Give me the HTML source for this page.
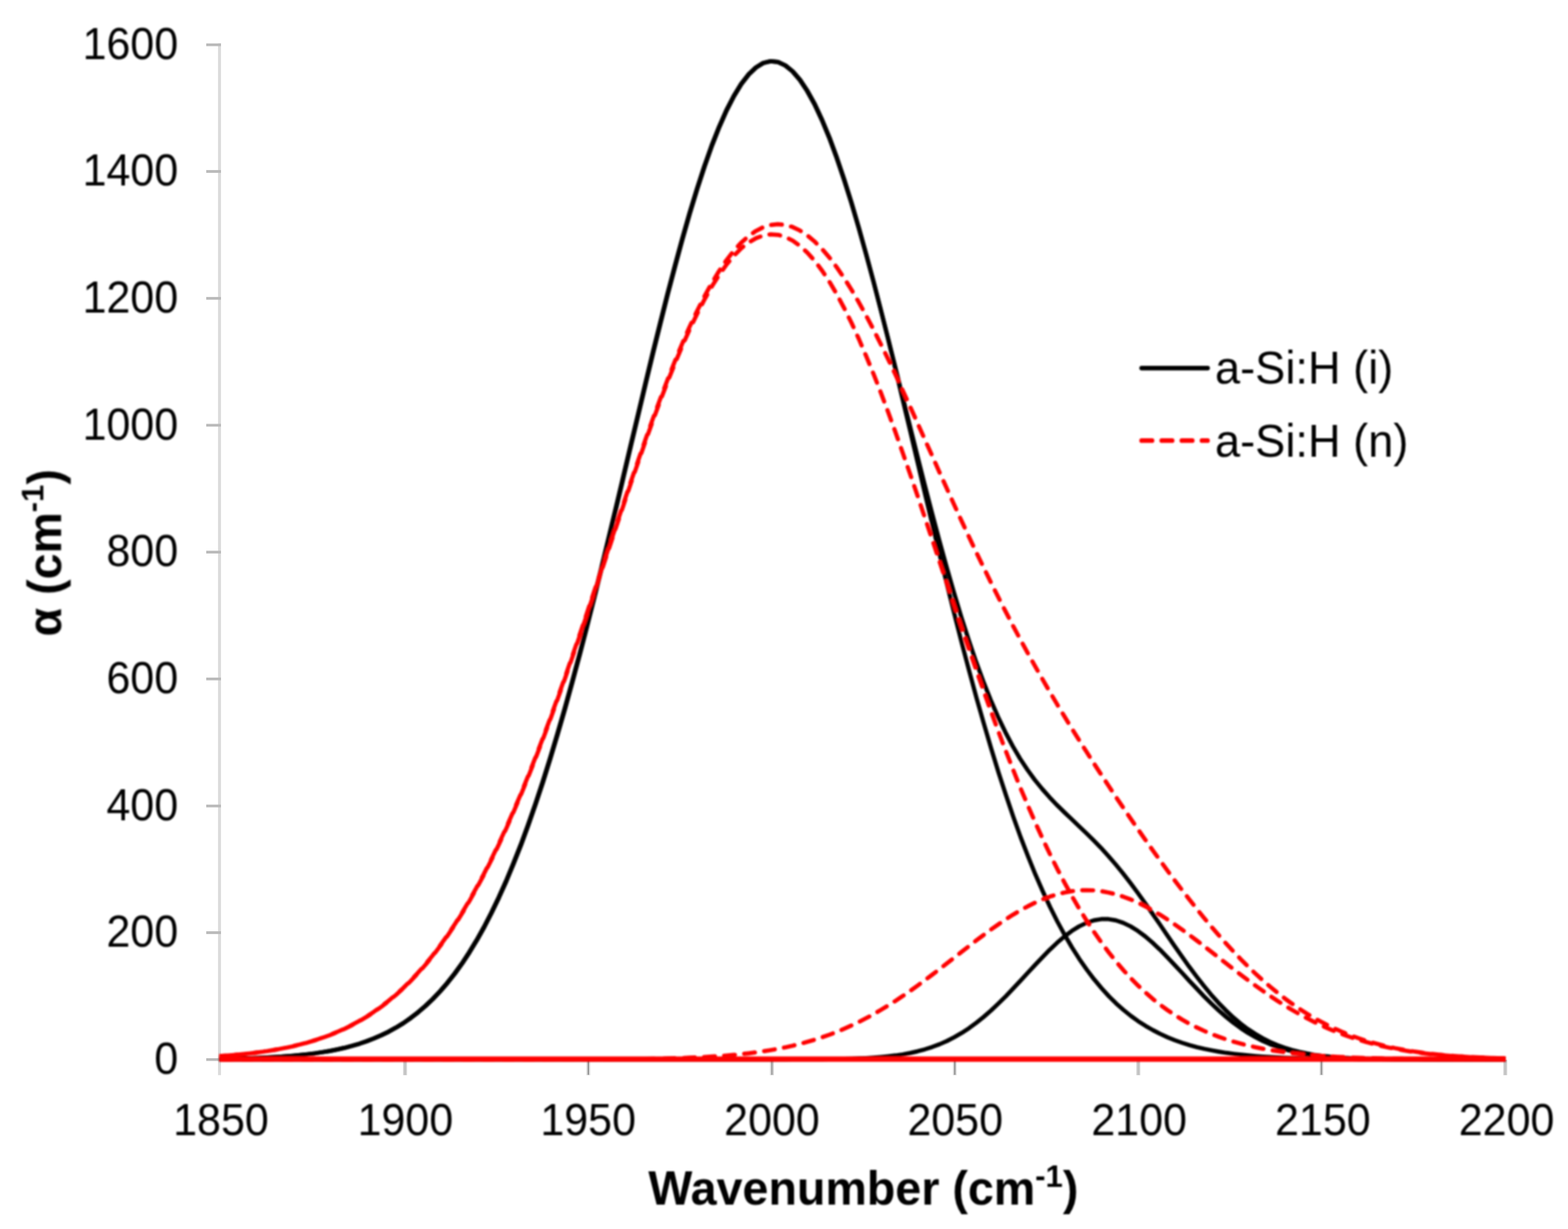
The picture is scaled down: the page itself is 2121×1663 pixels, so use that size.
<!DOCTYPE html>
<html lang="en"><head><meta charset="utf-8"><title>FTIR absorption spectra</title>
<style>
html,body{margin:0;padding:0;background:#fff;}
body{width:2121px;height:1663px;}
svg{display:block;}
text{font-family:"Liberation Sans",sans-serif;fill:#000;}
.tick{font-size:61px;}
.ttl{font-size:64.5px;font-weight:bold;}
.leg{font-size:63.2px;}
.k{fill:none;stroke:#000;stroke-width:5.7;stroke-linejoin:round;stroke-linecap:round;}
.r{fill:none;stroke:#f00;stroke-width:5.7;stroke-linejoin:round;stroke-linecap:round;stroke-dasharray:14.6 12.6;}
</style></head><body>
<svg width="2121" height="1663" viewBox="0 0 2121 1663" role="img" aria-label="FTIR absorption coefficient versus wavenumber for a-Si:H (i) and a-Si:H (n)">
<defs><filter id="soft" x="0" y="0" width="100%" height="100%" filterUnits="userSpaceOnUse"><feGaussianBlur stdDeviation="1.0"/></filter><filter id="soft2" x="0" y="0" width="100%" height="100%" filterUnits="userSpaceOnUse"><feGaussianBlur stdDeviation="0.45"/></filter></defs>
<rect x="0" y="0" width="2121" height="1663" fill="#fff"/>
<g id="axes" filter="url(#soft2)">
<rect x="294.9" y="58.6" width="4.0" height="1396.2" fill="#dbdbdb"/>
<rect x="279.0" y="1431.85" width="19.9" height="3.7" fill="#b9b9b9"/>
<rect x="279.0" y="1260.15" width="19.9" height="3.7" fill="#b9b9b9"/>
<rect x="279.0" y="1088.75" width="19.9" height="3.7" fill="#b9b9b9"/>
<rect x="279.0" y="916.85" width="19.9" height="3.7" fill="#b9b9b9"/>
<rect x="279.0" y="745.25" width="19.9" height="3.7" fill="#b9b9b9"/>
<rect x="279.0" y="573.55" width="19.9" height="3.7" fill="#b9b9b9"/>
<rect x="279.0" y="401.85" width="19.9" height="3.7" fill="#b9b9b9"/>
<rect x="279.0" y="230.15" width="19.9" height="3.7" fill="#b9b9b9"/>
<rect x="279.0" y="58.75" width="19.9" height="3.7" fill="#b9b9b9"/>
<rect x="545.30" y="1434" width="5.2" height="20.9" fill="#d2d2d2"/>
<rect x="546.60" y="1434" width="2.6" height="20.4" fill="#c2c2c2"/>
<rect x="793.10" y="1434" width="5.4" height="20.9" fill="#e0e0e0"/>
<rect x="794.85" y="1434" width="1.9" height="20.4" fill="#8e8e8e"/>
<rect x="1041.50" y="1434" width="5.4" height="20.9" fill="#dcdcdc"/>
<rect x="1043.00" y="1434" width="2.4" height="20.4" fill="#a6a6a6"/>
<rect x="1288.80" y="1434" width="5.4" height="20.9" fill="#e0e0e0"/>
<rect x="1290.55" y="1434" width="1.9" height="20.4" fill="#8e8e8e"/>
<rect x="1537.20" y="1434" width="5.2" height="20.9" fill="#d2d2d2"/>
<rect x="1538.50" y="1434" width="2.6" height="20.4" fill="#c2c2c2"/>
<rect x="1784.80" y="1434" width="5.4" height="20.9" fill="#e0e0e0"/>
<rect x="1786.55" y="1434" width="1.9" height="20.4" fill="#8e8e8e"/>
<rect x="2033.50" y="1434" width="5.2" height="20.9" fill="#d2d2d2"/>
<rect x="2034.80" y="1434" width="2.6" height="20.4" fill="#c2c2c2"/>
</g>
<g id="chart" filter="url(#soft)">
<g id="ylabels" class="tick" text-anchor="end">
<text transform="translate(241.00 1453.00) scale(0.953 1)">0</text>
<text transform="translate(241.00 1281.30) scale(0.953 1)">200</text>
<text transform="translate(241.00 1109.90) scale(0.953 1)">400</text>
<text transform="translate(241.00 938.00) scale(0.953 1)">600</text>
<text transform="translate(241.00 766.40) scale(0.953 1)">800</text>
<text transform="translate(241.00 594.70) scale(0.953 1)">1000</text>
<text transform="translate(241.00 423.00) scale(0.953 1)">1200</text>
<text transform="translate(241.00 251.30) scale(0.953 1)">1400</text>
<text transform="translate(241.00 79.90) scale(0.953 1)">1600</text>
</g>
<g id="xlabels" class="tick" text-anchor="middle">
<text transform="translate(298.90 1535.60) scale(0.953 1)">1850</text>
<text transform="translate(548.30 1535.60) scale(0.953 1)">1900</text>
<text transform="translate(795.60 1535.60) scale(0.953 1)">1950</text>
<text transform="translate(1044.20 1535.60) scale(0.953 1)">2000</text>
<text transform="translate(1292.10 1535.60) scale(0.953 1)">2050</text>
<text transform="translate(1540.90 1535.60) scale(0.953 1)">2100</text>
<text transform="translate(1789.40 1535.60) scale(0.953 1)">2150</text>
<text transform="translate(2037.90 1535.60) scale(0.953 1)">2200</text>
</g>
<clipPath id="plot"><rect x="296.4" y="0" width="1740.4" height="1663"/></clipPath>
<g id="series-i" clip-path="url(#plot)">
<path class="k" transform="translate(-0.4 0)" d="M297.0 1432.8 L306.9 1432.6 L316.9 1432.4 L326.8 1432.2 L336.8 1431.9 L346.7 1431.5 L356.6 1431.1 L366.6 1430.6 L376.5 1430.0 L386.4 1429.4 L396.4 1428.6 L406.3 1427.6 L416.3 1426.5 L426.2 1425.3 L436.1 1423.8 L446.1 1422.1 L456.0 1420.1 L465.9 1417.9 L475.9 1415.3 L485.8 1412.4 L495.8 1409.0 L505.7 1405.2 L515.6 1400.9 L525.6 1396.1 L535.5 1390.6 L545.5 1384.5 L555.4 1377.6 L565.3 1369.9 L575.3 1361.4 L585.2 1352.0 L595.1 1341.6 L605.1 1330.1 L615.0 1317.5 L625.0 1303.7 L634.9 1288.6 L644.8 1272.3 L654.8 1254.5 L664.7 1235.3 L674.6 1214.7 L684.6 1192.5 L694.5 1168.7 L704.5 1143.4 L714.4 1116.5 L724.3 1088.1 L734.3 1058.0 L744.2 1026.4 L754.1 993.4 L764.1 958.9 L774.0 923.0 L784.0 885.8 L793.9 847.5 L803.8 808.2 L813.8 768.0 L823.7 727.0 L833.7 685.5 L843.6 643.7 L853.5 601.7 L863.5 559.8 L873.4 518.1 L883.3 477.0 L893.3 436.7 L903.2 397.4 L913.2 359.4 L923.1 322.9 L933.0 288.2 L943.0 255.5 L952.9 225.1 L962.8 197.1 L972.8 171.8 L982.7 149.4 L992.7 130.0 L1002.6 113.8 L1012.5 100.9 L1022.5 91.4 L1032.4 85.3 L1042.3 82.8 L1052.3 83.9 L1062.2 88.5 L1072.2 96.6 L1082.1 108.1 L1092.0 123.0 L1102.0 141.0 L1111.9 162.2 L1121.9 186.3 L1131.8 213.0 L1141.7 242.3 L1151.7 273.8 L1161.6 307.4 L1171.5 342.7 L1181.5 379.6 L1191.4 417.6 L1201.4 456.6 L1211.3 496.2 L1221.2 536.2 L1231.2 576.2 L1241.1 615.9 L1251.0 655.2 L1261.0 693.6 L1270.9 731.1 L1280.9 767.2 L1290.8 801.8 L1300.7 834.8 L1310.7 865.9 L1320.6 895.1 L1330.6 922.2 L1340.5 947.1 L1350.4 970.0 L1360.4 990.8 L1370.3 1009.6 L1380.2 1026.5 L1390.2 1041.6 L1400.1 1055.2 L1410.1 1067.5 L1420.0 1078.7 L1429.9 1089.1 L1439.9 1098.9 L1449.8 1108.3 L1459.7 1117.7 L1469.7 1127.2 L1479.6 1137.0 L1489.6 1147.2 L1499.5 1158.1 L1509.4 1169.5 L1519.4 1181.7 L1529.3 1194.5 L1539.2 1207.9 L1549.2 1221.8 L1559.1 1236.0 L1569.1 1250.5 L1579.0 1265.1 L1588.9 1279.6 L1598.9 1293.9 L1608.8 1307.8 L1618.8 1321.1 L1628.7 1333.8 L1638.6 1345.8 L1648.6 1356.9 L1658.5 1367.1 L1668.4 1376.5 L1678.4 1384.9 L1688.3 1392.4 L1698.3 1399.0 L1708.2 1404.8 L1718.1 1409.8 L1728.1 1414.1 L1738.0 1417.7 L1747.9 1420.8 L1757.9 1423.3 L1767.8 1425.4 L1777.8 1427.2 L1787.7 1428.6 L1797.6 1429.7 L1807.6 1430.6 L1817.5 1431.3 L1827.5 1431.8 L1837.4 1432.3 L1847.3 1432.6 L1857.3 1432.8 L1867.2 1433.0 L1877.1 1433.2 L1887.1 1433.3 L1897.0 1433.4 L1907.0 1433.4 L1916.9 1433.5 L1926.8 1433.5 L1936.8 1433.5 L1946.7 1433.6 L1956.6 1433.6 L1966.6 1433.6 L1976.5 1433.6 L1986.5 1433.6 L1996.4 1433.6 L2006.3 1433.6 L2016.3 1433.6 L2026.2 1433.6 L2036.2 1433.6"/>
<path class="k" transform="translate(0.4 0)" d="M297.0 1432.8 L306.9 1432.6 L316.9 1432.4 L326.8 1432.2 L336.8 1431.9 L346.7 1431.5 L356.6 1431.1 L366.6 1430.6 L376.5 1430.0 L386.4 1429.4 L396.4 1428.6 L406.3 1427.6 L416.3 1426.5 L426.2 1425.3 L436.1 1423.8 L446.1 1422.1 L456.0 1420.1 L465.9 1417.9 L475.9 1415.3 L485.8 1412.4 L495.8 1409.0 L505.7 1405.2 L515.6 1400.9 L525.6 1396.1 L535.5 1390.6 L545.5 1384.5 L555.4 1377.6 L565.3 1369.9 L575.3 1361.4 L585.2 1352.0 L595.1 1341.6 L605.1 1330.1 L615.0 1317.5 L625.0 1303.7 L634.9 1288.6 L644.8 1272.3 L654.8 1254.5 L664.7 1235.3 L674.6 1214.7 L684.6 1192.5 L694.5 1168.7 L704.5 1143.4 L714.4 1116.5 L724.3 1088.1 L734.3 1058.0 L744.2 1026.4 L754.1 993.4 L764.1 958.9 L774.0 923.0 L784.0 885.8 L793.9 847.5 L803.8 808.2 L813.8 768.0 L823.7 727.0 L833.7 685.5 L843.6 643.7 L853.5 601.7 L863.5 559.8 L873.4 518.1 L883.3 477.0 L893.3 436.7 L903.2 397.4 L913.2 359.4 L923.1 322.9 L933.0 288.2 L943.0 255.5 L952.9 225.1 L962.8 197.1 L972.8 171.8 L982.7 149.4 L992.7 130.0 L1002.6 113.8 L1012.5 100.9 L1022.5 91.4 L1032.4 85.3 L1042.3 82.9 L1052.3 83.9 L1062.2 88.5 L1072.2 96.6 L1082.1 108.2 L1092.0 123.1 L1102.0 141.2 L1111.9 162.5 L1121.9 186.6 L1131.8 213.6 L1141.7 243.0 L1151.7 274.9 L1161.6 308.8 L1171.5 344.6 L1181.5 382.0 L1191.4 420.8 L1201.4 460.8 L1211.3 501.6 L1221.2 543.1 L1231.2 584.9 L1241.1 626.9 L1251.0 668.8 L1261.0 710.5 L1270.9 751.7 L1280.9 792.2 L1290.8 831.9 L1300.7 870.6 L1310.7 908.3 L1320.6 944.7 L1330.6 979.7 L1340.5 1013.4 L1350.4 1045.6 L1360.4 1076.2 L1370.3 1105.3 L1380.2 1132.9 L1390.2 1158.8 L1400.1 1183.2 L1410.1 1206.0 L1420.0 1227.2 L1429.9 1247.0 L1439.9 1265.3 L1449.8 1282.3 L1459.7 1297.8 L1469.7 1312.1 L1479.6 1325.2 L1489.6 1337.1 L1499.5 1348.0 L1509.4 1357.8 L1519.4 1366.6 L1529.3 1374.6 L1539.2 1381.8 L1549.2 1388.2 L1559.1 1393.9 L1569.1 1399.0 L1579.0 1403.6 L1588.9 1407.6 L1598.9 1411.1 L1608.8 1414.2 L1618.8 1416.9 L1628.7 1419.3 L1638.6 1421.3 L1648.6 1423.1 L1658.5 1424.7 L1668.4 1426.0 L1678.4 1427.2 L1688.3 1428.2 L1698.3 1429.0 L1708.2 1429.8 L1718.1 1430.4 L1728.1 1430.9 L1738.0 1431.4 L1747.9 1431.7 L1757.9 1432.1 L1767.8 1432.3 L1777.8 1432.6 L1787.7 1432.7 L1797.6 1432.9 L1807.6 1433.0 L1817.5 1433.1 L1827.5 1433.2 L1837.4 1433.3 L1847.3 1433.3 L1857.3 1433.4 L1867.2 1433.4 L1877.1 1433.5 L1887.1 1433.5 L1897.0 1433.5 L1907.0 1433.5 L1916.9 1433.5 L1926.8 1433.6 L1936.8 1433.6 L1946.7 1433.6 L1956.6 1433.6 L1966.6 1433.6 L1976.5 1433.6 L1986.5 1433.6 L1996.4 1433.6 L2006.3 1433.6 L2016.3 1433.6 L2026.2 1433.6 L2036.2 1433.6"/>
<path class="k" d="M297.0 1433.6 L306.9 1433.6 L316.9 1433.6 L326.8 1433.6 L336.8 1433.6 L346.7 1433.6 L356.6 1433.6 L366.6 1433.6 L376.5 1433.6 L386.4 1433.6 L396.4 1433.6 L406.3 1433.6 L416.3 1433.6 L426.2 1433.6 L436.1 1433.6 L446.1 1433.6 L456.0 1433.6 L465.9 1433.6 L475.9 1433.6 L485.8 1433.6 L495.8 1433.6 L505.7 1433.6 L515.6 1433.6 L525.6 1433.6 L535.5 1433.6 L545.5 1433.6 L555.4 1433.6 L565.3 1433.6 L575.3 1433.6 L585.2 1433.6 L595.1 1433.6 L605.1 1433.6 L615.0 1433.6 L625.0 1433.6 L634.9 1433.6 L644.8 1433.6 L654.8 1433.6 L664.7 1433.6 L674.6 1433.6 L684.6 1433.6 L694.5 1433.6 L704.5 1433.6 L714.4 1433.6 L724.3 1433.6 L734.3 1433.6 L744.2 1433.6 L754.1 1433.6 L764.1 1433.6 L774.0 1433.6 L784.0 1433.6 L793.9 1433.6 L803.8 1433.6 L813.8 1433.6 L823.7 1433.6 L833.7 1433.6 L843.6 1433.6 L853.5 1433.6 L863.5 1433.6 L873.4 1433.6 L883.3 1433.6 L893.3 1433.6 L903.2 1433.6 L913.2 1433.6 L923.1 1433.6 L933.0 1433.6 L943.0 1433.6 L952.9 1433.6 L962.8 1433.6 L972.8 1433.6 L982.7 1433.6 L992.7 1433.6 L1002.6 1433.6 L1012.5 1433.6 L1022.5 1433.6 L1032.4 1433.6 L1042.3 1433.6 L1052.3 1433.6 L1062.2 1433.6 L1072.2 1433.5 L1082.1 1433.5 L1092.0 1433.5 L1102.0 1433.4 L1111.9 1433.3 L1121.9 1433.2 L1131.8 1433.1 L1141.7 1432.8 L1151.7 1432.6 L1161.6 1432.2 L1171.5 1431.8 L1181.5 1431.2 L1191.4 1430.4 L1201.4 1429.4 L1211.3 1428.2 L1221.2 1426.7 L1231.2 1424.9 L1241.1 1422.6 L1251.0 1419.9 L1261.0 1416.7 L1270.9 1413.0 L1280.9 1408.6 L1290.8 1403.5 L1300.7 1397.8 L1310.7 1391.3 L1320.6 1384.0 L1330.6 1376.0 L1340.5 1367.4 L1350.4 1358.0 L1360.4 1348.2 L1370.3 1337.8 L1380.2 1327.2 L1390.2 1316.4 L1400.1 1305.7 L1410.1 1295.2 L1420.0 1285.1 L1429.9 1275.7 L1439.9 1267.1 L1449.8 1259.7 L1459.7 1253.5 L1469.7 1248.7 L1479.6 1245.4 L1489.6 1243.7 L1499.5 1243.7 L1509.4 1245.4 L1519.4 1248.7 L1529.3 1253.5 L1539.2 1259.7 L1549.2 1267.1 L1559.1 1275.7 L1569.1 1285.1 L1579.0 1295.2 L1588.9 1305.7 L1598.9 1316.4 L1608.8 1327.2 L1618.8 1337.8 L1628.7 1348.2 L1638.6 1358.0 L1648.6 1367.4 L1658.5 1376.0 L1668.4 1384.0 L1678.4 1391.3 L1688.3 1397.8 L1698.3 1403.5 L1708.2 1408.6 L1718.1 1413.0 L1728.1 1416.7 L1738.0 1419.9 L1747.9 1422.6 L1757.9 1424.9 L1767.8 1426.7 L1777.8 1428.2 L1787.7 1429.4 L1797.6 1430.4 L1807.6 1431.2 L1817.5 1431.8 L1827.5 1432.2 L1837.4 1432.6 L1847.3 1432.8 L1857.3 1433.1 L1867.2 1433.2 L1877.1 1433.3 L1887.1 1433.4 L1897.0 1433.5 L1907.0 1433.5 L1916.9 1433.5 L1926.8 1433.6 L1936.8 1433.6 L1946.7 1433.6 L1956.6 1433.6 L1966.6 1433.6 L1976.5 1433.6 L1986.5 1433.6 L1996.4 1433.6 L2006.3 1433.6 L2016.3 1433.6 L2026.2 1433.6 L2036.2 1433.6"/>
</g>
<g id="series-n" clip-path="url(#plot)">
<path class="r" transform="translate(-0.3 0)" stroke-dashoffset="6.9" d="M297.0 1429.0 L306.9 1428.3 L316.9 1427.5 L326.8 1426.6 L336.8 1425.5 L346.7 1424.3 L356.6 1423.0 L366.6 1421.4 L376.5 1419.7 L386.4 1417.8 L396.4 1415.7 L406.3 1413.3 L416.3 1410.6 L426.2 1407.6 L436.1 1404.3 L446.1 1400.6 L456.0 1396.5 L465.9 1392.1 L475.9 1387.1 L485.8 1381.7 L495.8 1375.8 L505.7 1369.3 L515.6 1362.2 L525.6 1354.5 L535.5 1346.1 L545.5 1337.1 L555.4 1327.3 L565.3 1316.7 L575.3 1305.4 L585.2 1293.2 L595.1 1280.1 L605.1 1266.2 L615.0 1251.4 L625.0 1235.6 L634.9 1218.9 L644.8 1201.2 L654.8 1182.6 L664.7 1163.0 L674.6 1142.4 L684.6 1120.8 L694.5 1098.4 L704.5 1075.0 L714.4 1050.7 L724.3 1025.6 L734.3 999.6 L744.2 973.0 L754.1 945.6 L764.1 917.6 L774.0 889.0 L784.0 860.0 L793.9 830.6 L803.8 800.9 L813.8 771.1 L823.7 741.2 L833.7 711.3 L843.6 681.6 L853.5 652.2 L863.5 623.2 L873.4 594.7 L883.3 566.9 L893.3 539.9 L903.2 513.9 L913.2 488.8 L923.1 465.0 L933.0 442.4 L943.0 421.2 L952.9 401.6 L962.8 383.5 L972.8 367.1 L982.7 352.4 L992.7 339.6 L1002.6 328.7 L1012.5 319.7 L1022.5 312.7 L1032.4 307.6 L1042.3 304.5 L1052.3 303.4 L1062.2 304.3 L1072.2 307.1 L1082.1 311.8 L1092.0 318.3 L1102.0 326.6 L1111.9 336.5 L1121.9 348.1 L1131.8 361.2 L1141.7 375.6 L1151.7 391.4 L1161.6 408.3 L1171.5 426.3 L1181.5 445.2 L1191.4 465.0 L1201.4 485.4 L1211.3 506.4 L1221.2 527.9 L1231.2 549.8 L1241.1 571.8 L1251.0 594.1 L1261.0 616.3 L1270.9 638.6 L1280.9 660.7 L1290.8 682.6 L1300.7 704.3 L1310.7 725.7 L1320.6 746.8 L1330.6 767.4 L1340.5 787.7 L1350.4 807.6 L1360.4 827.1 L1370.3 846.2 L1380.2 864.8 L1390.2 883.1 L1400.1 900.9 L1410.1 918.4 L1420.0 935.6 L1429.9 952.4 L1439.9 968.9 L1449.8 985.1 L1459.7 1001.1 L1469.7 1016.8 L1479.6 1032.4 L1489.6 1047.7 L1499.5 1062.8 L1509.4 1077.8 L1519.4 1092.5 L1529.3 1107.1 L1539.2 1121.6 L1549.2 1135.8 L1559.1 1149.9 L1569.1 1163.7 L1579.0 1177.4 L1588.9 1190.8 L1598.9 1203.9 L1608.8 1216.8 L1618.8 1229.4 L1628.7 1241.7 L1638.6 1253.6 L1648.6 1265.2 L1658.5 1276.4 L1668.4 1287.2 L1678.4 1297.7 L1688.3 1307.6 L1698.3 1317.2 L1708.2 1326.3 L1718.1 1334.9 L1728.1 1343.1 L1738.0 1350.9 L1747.9 1358.1 L1757.9 1365.0 L1767.8 1371.4 L1777.8 1377.3 L1787.7 1382.8 L1797.6 1387.9 L1807.6 1392.7 L1817.5 1397.0 L1827.5 1401.0 L1837.4 1404.6 L1847.3 1407.9 L1857.3 1410.9 L1867.2 1413.6 L1877.1 1416.0 L1887.1 1418.2 L1897.0 1420.1 L1907.0 1421.9 L1916.9 1423.4 L1926.8 1424.8 L1936.8 1426.0 L1946.7 1427.1 L1956.6 1428.0 L1966.6 1428.8 L1976.5 1429.5 L1986.5 1430.1 L1996.4 1430.7 L2006.3 1431.1 L2016.3 1431.5 L2026.2 1431.8 L2036.2 1432.1"/>
<path class="r" transform="translate(0.3 0)" stroke-dashoffset="18.3" d="M297.0 1429.0 L306.9 1428.3 L316.9 1427.5 L326.8 1426.6 L336.8 1425.5 L346.7 1424.3 L356.6 1423.0 L366.6 1421.4 L376.5 1419.7 L386.4 1417.8 L396.4 1415.7 L406.3 1413.3 L416.3 1410.6 L426.2 1407.6 L436.1 1404.3 L446.1 1400.6 L456.0 1396.5 L465.9 1392.1 L475.9 1387.1 L485.8 1381.7 L495.8 1375.8 L505.7 1369.3 L515.6 1362.2 L525.6 1354.5 L535.5 1346.1 L545.5 1337.1 L555.4 1327.3 L565.3 1316.7 L575.3 1305.4 L585.2 1293.2 L595.1 1280.1 L605.1 1266.2 L615.0 1251.4 L625.0 1235.6 L634.9 1218.9 L644.8 1201.2 L654.8 1182.6 L664.7 1163.0 L674.6 1142.4 L684.6 1120.9 L694.5 1098.4 L704.5 1075.0 L714.4 1050.7 L724.3 1025.6 L734.3 999.7 L744.2 973.0 L754.1 945.6 L764.1 917.7 L774.0 889.1 L784.0 860.1 L793.9 830.8 L803.8 801.1 L813.8 771.3 L823.7 741.5 L833.7 711.7 L843.6 682.0 L853.5 652.7 L863.5 623.8 L873.4 595.5 L883.3 567.9 L893.3 541.1 L903.2 515.3 L913.2 490.5 L923.1 467.0 L933.0 444.8 L943.0 424.0 L952.9 404.8 L962.8 387.3 L972.8 371.6 L982.7 357.7 L992.7 345.8 L1002.6 335.8 L1012.5 328.0 L1022.5 322.2 L1032.4 318.6 L1042.3 317.1 L1052.3 317.8 L1062.2 320.7 L1072.2 325.7 L1082.1 332.9 L1092.0 342.1 L1102.0 353.3 L1111.9 366.5 L1121.9 381.6 L1131.8 398.5 L1141.7 417.1 L1151.7 437.3 L1161.6 459.0 L1171.5 482.1 L1181.5 506.5 L1191.4 531.9 L1201.4 558.4 L1211.3 585.8 L1221.2 613.9 L1231.2 642.6 L1241.1 671.7 L1251.0 701.3 L1261.0 731.0 L1270.9 760.9 L1280.9 790.7 L1290.8 820.4 L1300.7 849.9 L1310.7 879.0 L1320.6 907.7 L1330.6 935.9 L1340.5 963.5 L1350.4 990.4 L1360.4 1016.6 L1370.3 1042.0 L1380.2 1066.6 L1390.2 1090.3 L1400.1 1113.1 L1410.1 1135.0 L1420.0 1155.9 L1429.9 1175.8 L1439.9 1194.8 L1449.8 1212.8 L1459.7 1229.9 L1469.7 1246.0 L1479.6 1261.1 L1489.6 1275.4 L1499.5 1288.7 L1509.4 1301.2 L1519.4 1312.9 L1529.3 1323.7 L1539.2 1333.7 L1549.2 1343.0 L1559.1 1351.7 L1569.1 1359.6 L1579.0 1366.9 L1588.9 1373.6 L1598.9 1379.7 L1608.8 1385.3 L1618.8 1390.4 L1628.7 1395.0 L1638.6 1399.2 L1648.6 1403.0 L1658.5 1406.5 L1668.4 1409.6 L1678.4 1412.3 L1688.3 1414.8 L1698.3 1417.1 L1708.2 1419.1 L1718.1 1420.9 L1728.1 1422.4 L1738.0 1423.9 L1747.9 1425.1 L1757.9 1426.2 L1767.8 1427.2 L1777.8 1428.0 L1787.7 1428.8 L1797.6 1429.4 L1807.6 1430.0 L1817.5 1430.5 L1827.5 1430.9 L1837.4 1431.3 L1847.3 1431.7 L1857.3 1431.9 L1867.2 1432.2 L1877.1 1432.4 L1887.1 1432.6 L1897.0 1432.7 L1907.0 1432.9 L1916.9 1433.0 L1926.8 1433.1 L1936.8 1433.2 L1946.7 1433.2 L1956.6 1433.3 L1966.6 1433.3 L1976.5 1433.4 L1986.5 1433.4 L1996.4 1433.5 L2006.3 1433.5 L2016.3 1433.5 L2026.2 1433.5 L2036.2 1433.5"/>
<path class="r" stroke-dashoffset="-2.7" d="M297.0 1433.6 L306.9 1433.6 L316.9 1433.6 L326.8 1433.6 L336.8 1433.6 L346.7 1433.6 L356.6 1433.6 L366.6 1433.6 L376.5 1433.6 L386.4 1433.6 L396.4 1433.6 L406.3 1433.6 L416.3 1433.6 L426.2 1433.6 L436.1 1433.6 L446.1 1433.6 L456.0 1433.6 L465.9 1433.6 L475.9 1433.6 L485.8 1433.6 L495.8 1433.6 L505.7 1433.6 L515.6 1433.6 L525.6 1433.6 L535.5 1433.6 L545.5 1433.6 L555.4 1433.6 L565.3 1433.6 L575.3 1433.6 L585.2 1433.6 L595.1 1433.6 L605.1 1433.6 L615.0 1433.6 L625.0 1433.6 L634.9 1433.6 L644.8 1433.6 L654.8 1433.6 L664.7 1433.6 L674.6 1433.6 L684.6 1433.6 L694.5 1433.6 L704.5 1433.6 L714.4 1433.6 L724.3 1433.6 L734.3 1433.6 L744.2 1433.5 L754.1 1433.5 L764.1 1433.5 L774.0 1433.5 L784.0 1433.5 L793.9 1433.4 L803.8 1433.4 L813.8 1433.4 L823.7 1433.3 L833.7 1433.2 L843.6 1433.1 L853.5 1433.1 L863.5 1432.9 L873.4 1432.8 L883.3 1432.6 L893.3 1432.4 L903.2 1432.2 L913.2 1431.9 L923.1 1431.6 L933.0 1431.2 L943.0 1430.8 L952.9 1430.3 L962.8 1429.7 L972.8 1429.1 L982.7 1428.3 L992.7 1427.4 L1002.6 1426.4 L1012.5 1425.3 L1022.5 1424.0 L1032.4 1422.6 L1042.3 1421.0 L1052.3 1419.2 L1062.2 1417.2 L1072.2 1415.0 L1082.1 1412.5 L1092.0 1409.8 L1102.0 1406.9 L1111.9 1403.6 L1121.9 1400.1 L1131.8 1396.3 L1141.7 1392.1 L1151.7 1387.7 L1161.6 1382.9 L1171.5 1377.8 L1181.5 1372.4 L1191.4 1366.6 L1201.4 1360.6 L1211.3 1354.3 L1221.2 1347.7 L1231.2 1340.8 L1241.1 1333.7 L1251.0 1326.4 L1261.0 1318.9 L1270.9 1311.3 L1280.9 1303.6 L1290.8 1295.8 L1300.7 1288.0 L1310.7 1280.3 L1320.6 1272.6 L1330.6 1265.1 L1340.5 1257.8 L1350.4 1250.8 L1360.4 1244.1 L1370.3 1237.7 L1380.2 1231.8 L1390.2 1226.4 L1400.1 1221.4 L1410.1 1217.0 L1420.0 1213.3 L1429.9 1210.1 L1439.9 1207.7 L1449.8 1205.9 L1459.7 1204.8 L1469.7 1204.5 L1479.6 1204.8 L1489.6 1205.9 L1499.5 1207.7 L1509.4 1210.1 L1519.4 1213.3 L1529.3 1217.0 L1539.2 1221.4 L1549.2 1226.4 L1559.1 1231.8 L1569.1 1237.7 L1579.0 1244.1 L1588.9 1250.8 L1598.9 1257.8 L1608.8 1265.1 L1618.8 1272.6 L1628.7 1280.3 L1638.6 1288.0 L1648.6 1295.8 L1658.5 1303.6 L1668.4 1311.3 L1678.4 1318.9 L1688.3 1326.4 L1698.3 1333.7 L1708.2 1340.8 L1718.1 1347.7 L1728.1 1354.3 L1738.0 1360.6 L1747.9 1366.6 L1757.9 1372.4 L1767.8 1377.8 L1777.8 1382.9 L1787.7 1387.7 L1797.6 1392.1 L1807.6 1396.3 L1817.5 1400.1 L1827.5 1403.6 L1837.4 1406.9 L1847.3 1409.8 L1857.3 1412.5 L1867.2 1415.0 L1877.1 1417.2 L1887.1 1419.2 L1897.0 1421.0 L1907.0 1422.6 L1916.9 1424.0 L1926.8 1425.3 L1936.8 1426.4 L1946.7 1427.4 L1956.6 1428.3 L1966.6 1429.1 L1976.5 1429.7 L1986.5 1430.3 L1996.4 1430.8 L2006.3 1431.2 L2016.3 1431.6 L2026.2 1431.9 L2036.2 1432.2"/>
<line x1="296.6" y1="1433.1" x2="2036.3" y2="1433.1" stroke="#f00" stroke-width="7.2"/>
</g>
<g id="legend">
<path d="M1544.3 498.1 H1633.5" class="k" style="stroke-width:6.3"/>
<text class="leg" transform="translate(1643.5 519) scale(0.9675 1)">a-Si:H (i)</text>
<path d="M1544.3 596.2 H1633.4" class="r" style="stroke-width:6.3;stroke-dasharray:14.0 13.2"/>
<text class="leg" transform="translate(1643.5 617.8) scale(0.9675 1)">a-Si:H (n)</text>
</g>
<text id="xt" class="ttl" transform="translate(877 1630.4) scale(0.978 1)">Wavenumber (cm<tspan font-size="43" dy="-24.5">-1</tspan><tspan dy="24.5">)</tspan></text>
<text id="yt" class="ttl" transform="translate(82.6 861.2) rotate(-90) scale(0.976 1)">α (cm<tspan font-size="43" dy="-24.5">-1</tspan><tspan dy="24.5">)</tspan></text>
</g>
</svg>
</body></html>
